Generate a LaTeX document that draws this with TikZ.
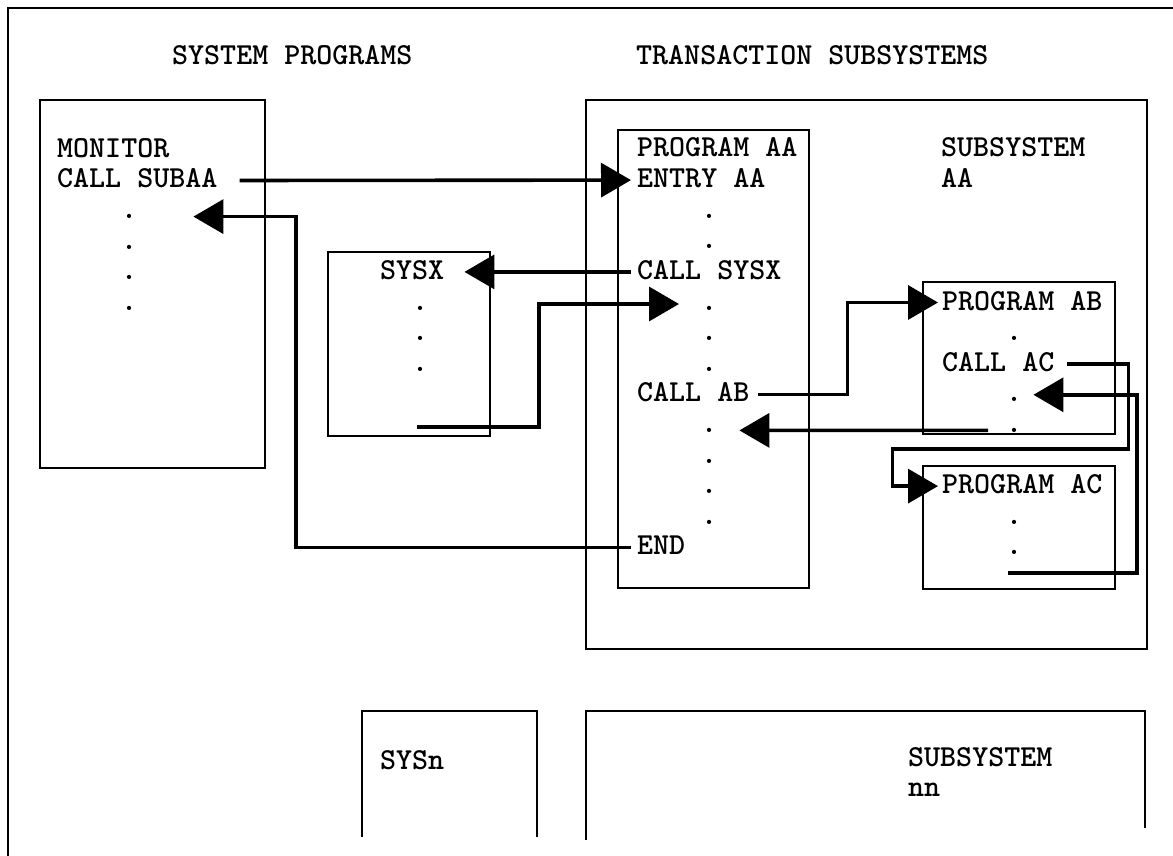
\documentclass[tikz,border=0pt]{standalone}
\usepackage{fontspec}
\usetikzlibrary{arrows.meta}

\begin{document}
\begin{tikzpicture}[
    x=1pt, y=-1pt,
    frame/.style={line width=2.4pt},
    box/.style={draw, line width=2.4pt, inner sep=0pt, outer sep=0pt, anchor=north west},
    txt/.style={anchor=base west, inner sep=0pt, text height=15pt, text depth=0pt,
        font=\ttfamily\bfseries\fontsize{30.5}{34}\selectfont},
    dotnode/.style={txt, text height=4pt},
    arrow/.style={line width=3.6pt, -{Triangle[length=30pt, width=34pt]}}
]
\useasboundingbox (0,0) rectangle (1173,856);

% outer frame and boxes
\draw[frame] (8,856) -- (8,8) -- (1173,8);
\node[box, minimum width=225pt, minimum height=368pt] (monitor) at (40,100) {};
\node[box, minimum width=162pt, minimum height=184pt] (sysxbox) at (328,252) {};
\node[box, minimum width=561pt, minimum height=549pt] (trans) at (586,100) {};
\node[box, minimum width=191pt, minimum height=458pt] (aabox) at (618,130) {};
\node[box, minimum width=192pt, minimum height=152pt] (abbox) at (923,282) {};
\node[box, minimum width=192pt, minimum height=123pt] (acbox) at (923,466) {};
\draw[frame] (362,837) -- (362,711) -- (537,711) -- (537,837);
\draw[frame] (586,840) -- (586,711) -- (1145,711) -- (1145,828);

% headings
\node[txt] (sysprog) at (172,65) {SYSTEM PROGRAMS};
\node[txt] (transub) at (636,65) {TRANSACTION SUBSYSTEMS};

% monitor
\node[txt] (montxt) at (57,158) {MONITOR};
\node[txt] (callsub) at (57,188) {CALL SUBAA};
\foreach \i in {1,...,4}
    \node[dotnode] (mdot\i) at (121,{188+30.6*\i}) {.};

% sysx
\node[txt] (sysx) at (380,279.4) {SYSX};
\foreach \i/\k in {1/5,2/6,3/7}
    \node[dotnode] (sdot\i) at (412,{157+30.6*\k}) {.};
\coordinate (sysxout) at (417,427);

% program aa
\node[txt] (progaa) at (637,157) {PROGRAM AA};
\node[txt] (entry) at (637,187.6) {ENTRY AA};
\foreach \k in {2,3,5,6,7,9,10,11,12}
    \node[dotnode] (aadot\k) at (701,{157+30.6*\k}) {.};
\node[txt] (callsysx) at (637,279.4) {CALL SYSX};
\node[txt] (callab) at (637,401.8) {CALL AB};
\node[txt] (endaa) at (637,554.8) {END};
\node[txt] (subaa) at (941,157) {SUBSYSTEM};
\node[txt] (subaa2) at (941,187.6) {AA};

% program ab / ac
\node[txt] (progab) at (942,310) {PROGRAM AB};
\node[dotnode] (abdot1) at (1006,340.6) {.};
\node[txt] (callac) at (942,371.2) {CALL AC};
\node[dotnode] (abdot2) at (1006,401.8) {.};
\node[dotnode] (abdot3) at (1006,432.4) {.};
\node[txt] (progac) at (942,493.6) {PROGRAM AC};
\node[dotnode] (acdot1) at (1006,524.2) {.};
\node[dotnode] (acdot2) at (1006,554.8) {.};
\coordinate (acout) at (1008,573);

% sysn / subsystem nn
\node[txt] (sysn) at (380,769) {SYSn};
\node[txt] (subnn) at (908,766) {SUBSYSTEM};
\node[txt] (subnn2) at (908,796.6) {nn};

% calls and returns
\draw[arrow] ([xshift=22pt]callsub.east) -- ([xshift=-6pt]entry.west);
\draw[arrow] ([xshift=-6pt]endaa.west) -- ++(-335,0) |- ([xshift=56pt]mdot1.east);
\draw[arrow] ([xshift=-6pt]callsysx.west) -- ([xshift=20pt]sysx.east);
\draw[arrow] (sysxout) -- ++(122,0) |- ([xshift=-22pt, yshift=4pt]aadot5.west);
\draw[arrow] ([xshift=9pt]callab.east) -- ++(89,0) |- ([xshift=-4pt]progab.west);
\draw[arrow] ([xshift=-18pt]abdot3.west) -- ([xshift=22pt]aadot9.east);
\draw[arrow] ([xshift=13pt]callac.east) -- ++(61,0) -- ++(0,85) -- ++(-236,0) |- ([xshift=-4pt]progac.west);
\draw[arrow] (acout) -- ++(129,0) |- ([xshift=11pt, yshift=5pt]abdot2.east);
\end{tikzpicture}
\end{document}
